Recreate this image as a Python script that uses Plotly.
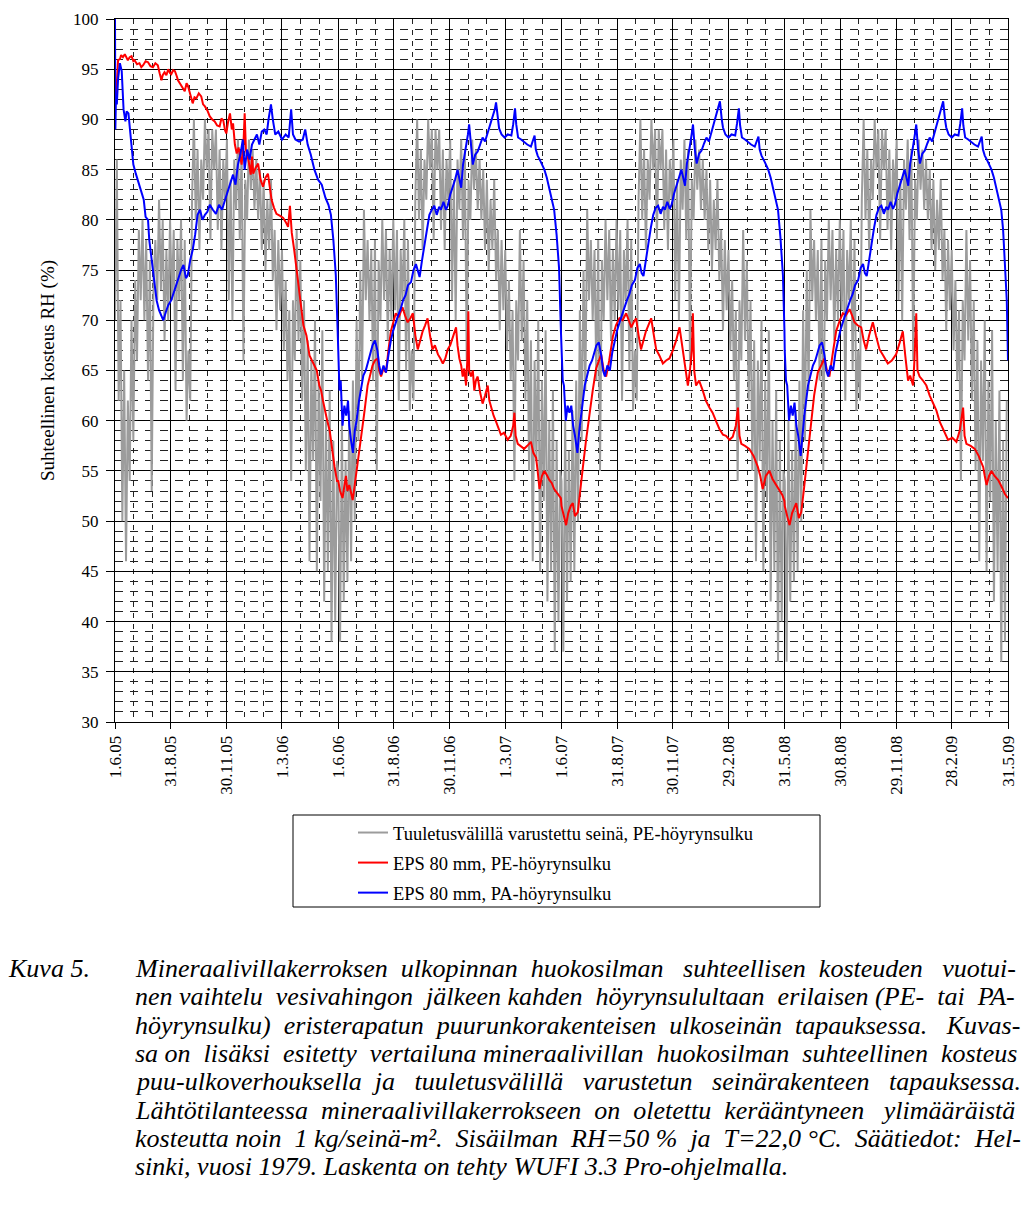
import datetime as dt
import re
import plotly.graph_objects as go

# ---------------- data ----------------
TICK_LABELS = ["1.6.05", "31.8.05", "30.11.05", "1.3.06", "1.6.06", "31.8.06", "30.11.06",
               "1.3.07", "1.6.07", "31.8.07", "30.11.07", "29.2.08", "31.5.08", "30.8.08",
               "29.11.08", "28.2.09", "31.5.09"]

SERIES_NAMES = ["Tuuletusvälillä varustettu seinä, PE-höyrynsulku",
                "EPS 80 mm, PE-höyrynsulku",
                "EPS 80 mm, PA-höyrynsulku"]

# Ventilated wall (grey): one value every 3 days, per simulation year (from 1.6.)
GRAY_STEP_DAYS = 3
GRAY_Y1 = [70, 86, 62, 72, 50, 65, 46, 62, 54, 70, 58, 74, 66, 79, 72, 80, 70, 78, 64, 76,
           53, 74, 78, 72, 82, 73, 80, 68, 77, 70, 80, 72, 79, 63, 78, 72, 80, 64, 78, 60,
           67, 62, 82, 90, 80, 87, 77, 86, 82, 90, 85, 89, 78, 89, 85, 89, 79, 87, 77, 86,
           82, 88, 72, 84, 70, 86, 81, 88, 78, 87, 66, 84, 80, 88, 83, 87, 81, 86, 80, 85,
           77, 84, 75, 82, 77, 84, 74, 79, 69, 78, 71, 77, 67, 74, 64, 71, 54, 72, 66, 79,
           68, 76, 62, 72, 55, 68, 46, 66, 56, 70, 45, 64, 52, 69, 42, 60, 45, 63, 38, 58,
           40, 56]
GRAY_Y2 = [55, 38, 60, 42, 56, 44, 61, 46, 64, 50, 70, 58, 75, 64, 81, 72, 78, 70, 77, 64,
           78, 55, 76, 70, 80, 72, 79, 68, 77, 70, 80, 71, 79, 62, 77, 72, 80, 65, 78, 61,
           67, 62, 82, 90, 80, 87, 77, 86, 82, 90, 85, 89, 78, 89, 85, 89, 79, 87, 77, 86,
           82, 88, 72, 84, 70, 86, 81, 88, 78, 87, 66, 84, 80, 88, 83, 87, 81, 86, 80, 85,
           77, 84, 75, 82, 77, 84, 74, 79, 69, 78, 71, 77, 67, 74, 64, 71, 54, 72, 66, 79,
           68, 76, 62, 72, 55, 68, 46, 66, 56, 70, 45, 64, 52, 69, 42, 60, 45, 63, 37, 58,
           40, 55]
GRAY_Y3 = [54, 37, 60, 42, 57, 44, 61, 45, 64, 50, 71, 58, 75, 63, 81, 72, 78, 70, 77, 64,
           78, 55, 76, 70, 80, 72, 79, 68, 77, 70, 80, 71, 79, 62, 77, 72, 80, 65, 78, 61,
           67, 62, 82, 90, 80, 87, 77, 86, 82, 90, 85, 89, 78, 89, 85, 89, 79, 87, 77, 86,
           82, 88, 72, 84, 70, 86, 81, 88, 78, 87, 66, 84, 80, 88, 83, 87, 81, 86, 80, 85,
           77, 84, 75, 82, 77, 84, 74, 79, 69, 78, 71, 77, 67, 74, 64, 71, 54, 72, 66, 79,
           68, 76, 62, 72, 55, 68, 46, 66, 56, 70, 45, 64, 52, 69, 42, 60, 45, 63, 36, 58,
           40, 55]
GRAY_Y4 = [54, 36, 60, 42, 57, 44, 61, 45, 64, 50, 71, 58, 75, 63, 81, 72, 78, 70, 77, 64,
           78, 55, 76, 70, 80, 72, 79, 68, 77, 70, 80, 71, 79, 62, 77, 72, 80, 65, 78, 61,
           67, 62, 82, 90, 80, 87, 77, 86, 82, 90, 85, 89, 78, 89, 85, 89, 79, 87, 77, 86,
           82, 88, 72, 84, 70, 86, 81, 88, 78, 87, 66, 84, 80, 88, 83, 87, 81, 86, 80, 85,
           77, 84, 75, 82, 77, 84, 74, 79, 69, 78, 71, 77, 67, 74, 64, 71, 54, 72, 66, 79,
           68, 76, 62, 72, 55, 68, 46, 66, 56, 70, 45, 64, 52, 69, 42, 60, 45, 63, 36, 58,
           38, 62]

# EPS 80 mm, PE vapour barrier (red): (day of simulation year, RH %)
RED_Y1 = [(0, 93.1), (2, 92.3), (5, 95.9), (8, 96), (10, 96.4), (13, 96.2), (16, 96.5), (19, 96.1),
          (21, 95.9), (24, 96.2), (27, 96.3), (30, 95.8), (32, 95.9), (36, 95.5), (40, 95.6),
          (43, 95.2), (46, 95.4), (50, 95.8), (54, 95.7), (58, 95.3), (62, 95.2), (66, 95.6),
          (70, 95.4), (73, 94.6), (76, 93.9), (78, 94.4), (81, 94.7), (84, 94.4), (87, 95.0),
          (90, 94.6), (92, 94.5), (95, 94.9), (98, 94.8), (101, 94.3), (103, 93.9), (106, 93.6),
          (109, 93.3), (112, 93), (114, 92.8), (117, 93.6), (119, 93.4), (123, 92.5), (127, 91.6),
          (130, 92.2), (133, 92.1), (137, 92.6), (141, 92.3), (144, 91.5), (147, 91.3), (151, 90.9),
          (155, 90.3), (159, 90), (163, 89.8), (167, 89.4), (171, 89.3), (174, 90.1), (177, 89.9),
          (180, 88.9), (182, 88.6), (185, 89.8), (188, 90.6), (191, 89), (193, 89.6), (196, 87.5),
          (199, 86.6), (202, 87.2), (204, 86.3), (207, 85.5), (210, 87.5), (212, 90.6), (214, 87),
          (218, 86), (222, 84.5), (224, 86.3), (226, 84.6), (230, 85.2), (234, 85.6), (238, 84),
          (242, 83.3), (246, 84.2), (250, 84.6), (253, 83), (256, 82), (260, 81.2), (264, 80.6),
          (270, 80.4), (275, 80.2), (279, 79.8), (283, 79.3), (286, 81.4), (289, 78.7), (293, 77),
          (297, 75), (300, 73), (304, 71), (308, 69.5), (313, 68.5), (318, 66.5), (322, 66),
          (326, 65.5), (330, 65), (334, 63.5), (337, 63), (340, 62), (343, 61), (347, 60),
          (351, 59), (355, 57), (359, 55.4), (363, 54)]
RED_Y2 = [(0, 54), (3, 53), (7, 52.3), (10, 53.5), (12.6, 54.5), (15, 53), (18, 53.6), (21, 52.8),
          (23.6, 52.1), (26, 53.2), (29, 54.5), (33, 56.5), (37, 58.1), (42, 60.5), (48, 63.5),
          (52, 64.5), (56, 65.5), (60, 66), (64.5, 66.2), (67, 65), (70, 64.4), (74, 65.2),
          (78, 64.8), (82, 67), (86, 68.9), (90, 69.8), (94, 70.7), (99, 70.3), (105, 71.3),
          (109, 70.5), (113.5, 69.8), (118, 70.2), (122, 70.7), (126, 68.5), (130, 67.1),
          (134, 68), (138, 68.9), (142, 69.5), (146, 70.2), (150, 68.5), (154, 67.1), (158, 67.5),
          (163, 66.6), (167, 66.2), (171, 65.7), (175, 66.2), (179, 67.1), (183, 67.5), (187, 68.2),
          (190, 68.8), (192.6, 69.3), (195, 67.5), (198, 66.2), (201, 65.5), (203.5, 64.4),
          (206, 65.2), (209, 63.5), (211, 66), (212.7, 70.9), (214, 65), (217, 64.4), (220, 65),
          (222.5, 63), (225, 64), (228, 64.4), (232, 62.8), (236, 61.7), (240, 62.5), (244.4, 63.5),
          (247, 62), (250, 61.3), (254, 60.5), (258, 59.9), (262, 59.2), (266, 58.6), (271, 58.8),
          (277, 58.1), (282, 58.5), (286, 59.5), (288, 60.8), (290, 58.5), (293.5, 57.7),
          (298, 57.5), (304, 57.2), (309, 57.5), (315, 57.9), (319, 56.8), (323.5, 56.3),
          (326, 55), (329, 53.2), (333, 54.5), (337, 55), (341, 54.6), (345, 54.1), (349, 53.8),
          (353, 53.2), (358, 52.8), (364, 52.3)]
RED_Y3 = [(0, 51.5), (4, 50.5), (7.5, 49.6), (11, 50.8), (15, 51.5), (18.5, 51.8), (22, 50.5),
          (26.7, 50.9), (30, 52.5), (35, 55.4), (40, 58), (45.6, 60.8), (51, 63), (56.6, 65.2),
          (61, 66), (64.8, 66.6), (69, 65), (73, 64.4), (78, 66), (84, 68.4), (89, 69.5),
          (94.7, 70.2), (100, 70), (105.7, 70.7), (110, 70), (114, 69.3), (118, 69.8), (122, 70.2),
          (126, 68.5), (130, 67.1), (134, 68), (138, 68.9), (142, 69.5), (146.6, 70.2), (151, 68.5),
          (154.8, 67.1), (160, 66.5), (165.7, 65.7), (171, 66), (176.5, 66.2), (182, 67),
          (187.5, 68), (193, 69.3), (197, 67.5), (201, 65.7), (204, 64.5), (206.6, 63.5),
          (210, 65), (213, 67), (214.8, 70.7), (217, 65), (220, 63.5), (225, 64), (231, 63),
          (236, 62), (242, 61.3), (247, 60.8), (253, 59.9), (258, 59.2), (264, 58.6), (269, 58.5),
          (274.7, 58.1), (280, 58.4), (285, 59.5), (288.5, 61.3), (291, 58.5), (294, 57.7),
          (300, 57.5), (307, 57.2), (314, 56.5), (321, 55.4), (325, 54.5), (329, 53.2),
          (334, 54.5), (340, 55), (345, 54.2), (351, 53.6), (356, 53), (361, 52.6), (364.5, 52)]
RED_Y4 = [(0, 51.5), (4, 50.5), (7.9, 49.6), (12, 50.8), (15, 51.2), (18.8, 51.8), (23, 50.3),
          (27, 50.9), (31, 53), (35, 55.4), (39, 57.5), (43, 59.9), (48, 62.5), (54, 64.8),
          (59, 65.5), (65, 66.2), (69, 65), (73, 64.4), (78, 66.5), (84, 68.9), (90, 70),
          (95, 70.7), (100, 70.5), (106, 71.1), (110, 70.5), (114, 69.8), (119, 69.5), (125, 69.3),
          (129, 68), (133, 67.1), (138, 68.5), (144, 69.8), (149, 68.5), (155, 67.1), (161, 66.5),
          (168.5, 65.7), (175, 66), (182, 66.6), (188, 67.8), (193, 68.9), (197, 66.5),
          (201.6, 64), (205, 64.5), (209.8, 63.5), (212, 66), (215, 70.7), (217, 65),
          (220.5, 64.4), (226, 64), (231.5, 63.5), (237, 62.5), (242.5, 61.7), (248, 61),
          (253.3, 59.9), (260, 59), (267, 58.1), (274, 58.3), (280.7, 57.9), (286, 59),
          (291.6, 61.3), (294, 58.5), (297, 57.7), (304, 57.5), (310.7, 57.2), (317, 56.5),
          (324.4, 55.4), (327, 54.5), (330, 53.6), (334, 54.5), (338, 55), (343, 54.5),
          (349, 54.1), (354, 53.5), (360, 52.7), (365, 52.3)]

# EPS 80 mm, PA vapour barrier (blue): (day of simulation year, RH %)
BLUE_Y1 = [(0, 100), (0.6, 89), (1.5, 92), (3, 91.5), (5, 94), (8, 95.6), (11, 94.8), (14, 91),
           (17, 89.8), (19, 90.8), (22, 90.6), (24, 89.3), (28, 87), (30, 85.5), (34, 84.6),
           (37, 84), (41, 83), (44, 82.6), (47, 82), (50, 80.3), (54, 80), (56, 78), (60, 76),
           (64, 74), (68, 72), (72, 71), (76, 70.5), (79, 70), (83, 70.8), (87, 71.5), (92, 72),
           (96, 72.8), (100, 73.5), (104, 74.2), (108, 75), (112, 75.5), (116, 74.2), (119, 74.5),
           (123, 76), (127, 77), (131, 78.5), (135, 80.5), (139, 81), (143, 80), (147, 80.5),
           (151, 80.8), (155, 81.5), (160, 81), (165, 80.6), (170, 81.5), (175, 81), (180, 82),
           (185, 83), (190, 84), (193, 84.5), (197, 83.5), (201, 85.5), (205, 86.5), (209, 88),
           (212, 85), (216, 87), (220, 86), (224, 87.5), (228, 88), (232, 88.5), (236, 87.5),
           (240, 88.8), (244, 89), (248, 88.5), (251, 90), (255, 91.5), (258, 90), (262, 88.5),
           (267, 88.8), (273, 88), (279, 88.5), (284, 88.2), (288, 91), (291, 88.5), (295, 88),
           (301, 87.8), (307, 88), (311, 89), (315, 87.5), (320, 86.5), (326, 85), (332, 84),
           (338, 83.5), (344, 82.2), (349, 81.5), (353, 80.5), (357, 78), (361, 74.5), (364, 69)]
BLUE_Y2 = [(0, 67), (2, 63), (4, 64), (7, 59.5), (10, 61.5), (13, 60.5), (16, 62), (18, 59.5),
           (21, 58), (24, 56.8), (27, 59), (30, 60), (34, 62), (37, 63), (41, 64.5), (45, 65),
           (48, 65.7), (52, 66.5), (56, 67.5), (60, 68), (64, 67), (67, 65.5), (70, 64.6),
           (74, 65.5), (78, 64.8), (82, 66.5), (86, 68), (90, 69), (94, 69.8), (98, 70.5),
           (102, 71.1), (106, 72), (110, 72.5), (114, 73.5), (119, 73.8), (123, 75), (127, 75.6),
           (130, 74.8), (133, 74.3), (137, 76), (141, 77.4), (145, 79), (149, 80.5), (153, 81),
           (157, 81.4), (161, 80.5), (165, 81.3), (168, 81), (172, 81.8), (176, 81), (179, 81.4),
           (183, 82.5), (187, 83.2), (191, 84), (195, 85), (198, 84), (201, 83.2), (204, 85.5),
           (207, 86.5), (209, 87.3), (212, 88.5), (214, 89.5), (217, 87), (220, 85.5), (224, 86.5),
           (228, 86.8), (232, 87.5), (236, 88.2), (240, 87.8), (244, 88.6), (248, 89.5),
           (253, 90.4), (256, 91), (258, 91.7), (261, 90), (263, 89.1), (267, 88.5), (272, 88.2),
           (277, 88.5), (283, 88.4), (286, 89.5), (289, 91.1), (291, 89.5), (294, 88.2), (299, 88),
           (304, 87.7), (309, 87.5), (315, 87.3), (318, 87.8), (321, 88.4), (323, 87), (326, 86.4),
           (331, 85.8), (337, 85), (341, 84.2), (345, 83.2), (349, 82.2), (353, 81), (357, 78.5),
           (361, 75.2), (364, 69)]
BLUE_Y3 = [(0, 67), (2, 64), (4, 63.5), (7, 60), (10, 61.5), (13, 60.8), (16, 61.5), (19, 59.5),
           (22, 58.5), (26, 56.8), (29, 59), (32, 60.5), (35, 62), (38, 63.5), (42, 64.5),
           (46, 65.5), (50, 66), (54, 67), (57, 67.5), (61, 67.8), (65, 66.5), (68, 65),
           (71, 64.4), (75, 65.5), (79, 65), (83, 66.8), (87, 68), (91, 69), (95, 69.8),
           (99, 70.6), (103, 71.2), (107, 72), (111, 72.6), (115, 73.5), (120, 74), (124, 75.2),
           (128, 75.6), (131, 74.7), (134, 74.4), (138, 76.2), (142, 77.6), (146, 79.2),
           (150, 80.5), (154, 81.2), (158, 81.4), (162, 80.6), (166, 81.3), (169, 81), (173, 81.8),
           (177, 81.1), (180, 81.5), (184, 82.6), (188, 83.3), (192, 84.2), (196, 85), (199, 84),
           (202, 83.4), (205, 85.6), (208, 86.5), (210, 87.4), (213, 88.6), (215, 89.5), (218, 87),
           (221, 85.6), (225, 86.6), (229, 86.9), (233, 87.6), (237, 88.2), (241, 87.8),
           (245, 88.7), (249, 89.6), (254, 90.5), (257, 91.2), (259, 91.8), (262, 90), (264, 89.2),
           (268, 88.5), (273, 88.2), (278, 88.5), (284, 88.4), (287, 89.6), (290, 91.1),
           (292, 89.4), (295, 88.2), (300, 88), (305, 87.7), (310, 87.5), (316, 87.3), (319, 87.9),
           (322, 88.3), (324, 87), (327, 86.4), (332, 85.8), (338, 85), (342, 84.2), (346, 83.2),
           (350, 82.2), (354, 81), (358, 78.2), (362, 74.5), (364.5, 69)]
BLUE_Y4 = [(0, 67), (2, 64), (4, 63.5), (7, 60), (10, 61.5), (13, 60.5), (16, 61.8), (19, 59.5),
           (22, 58.5), (26, 56.5), (29, 59), (32, 60.5), (35, 62), (38, 63.5), (42, 64.5),
           (46, 65.5), (50, 66), (54, 67), (57, 67.5), (61, 67.8), (65, 66.5), (68, 65),
           (71, 64.4), (75, 65.5), (79, 65), (83, 66.8), (87, 68), (91, 69), (95, 69.8),
           (99, 70.6), (103, 71.2), (107, 72), (111, 72.6), (115, 73.5), (120, 74), (124, 75.2),
           (128, 75.6), (131, 74.7), (134, 74.4), (138, 76.2), (142, 77.6), (146, 79.2),
           (150, 80.5), (154, 81.2), (158, 81.4), (162, 80.6), (166, 81.3), (169, 81), (173, 81.8),
           (177, 81.1), (180, 81.5), (184, 82.6), (188, 83.3), (192, 84.2), (196, 85), (199, 84),
           (202, 83.4), (205, 85.6), (208, 86.5), (210, 87.4), (213, 88.6), (215, 89.5), (218, 87),
           (221, 85.6), (225, 86.6), (229, 86.9), (233, 87.6), (237, 88.2), (241, 87.8),
           (245, 88.7), (249, 89.6), (254, 90.5), (257, 91.2), (259, 91.8), (262, 90), (264, 89.2),
           (268, 88.5), (273, 88.2), (278, 88.5), (284, 88.4), (287, 89.6), (290, 91.1),
           (292, 89.4), (295, 88.2), (300, 88), (305, 87.7), (310, 87.5), (316, 87.3), (319, 87.9),
           (322, 88.3), (324, 87), (327, 86.4), (332, 85.8), (338, 85), (342, 84.2), (346, 83.2),
           (350, 82.2), (354, 81), (357, 79), (360, 76), (363, 72), (365, 66)]

Y_LABEL = "Suhteellinen kosteus RH (%)"
CAPTION_TAG = "Kuva 5."
CAPTION_LINES = [
    "Mineraalivillakerroksen ulkopinnan huokosilman suhteellisen kosteuden vuotui-",
    "nen vaihtelu vesivahingon jälkeen kahden höyrynsulultaan erilaisen (PE- tai PA-",
    "höyrynsulku) eristerapatun puurunkorakenteisen ulkoseinän tapauksessa. Kuvas-",
    "sa on lisäksi esitetty vertailuna mineraalivillan huokosilman suhteellinen kosteus",
    "puu-ulkoverhouksella ja tuuletusvälillä varustetun seinärakenteen tapauksessa.",
    "Lähtötilanteessa mineraalivillakerrokseen on oletettu kerääntyneen ylimääräistä",
    "kosteutta noin 1 kg/seinä-m². Sisäilman RH=50 % ja T=22,0 °C. Säätiedot: Hel-",
    "sinki, vuosi 1979. Laskenta on tehty WUFI 3.3 Pro-ohjelmalla.",
]

# ---------------- build ----------------
ORIGIN = dt.date(2005, 6, 1)


def label_to_day(lbl):
    d, m, y = lbl.split(".")
    return (dt.date(2000 + int(y), int(m), int(d)) - ORIGIN).days


tick_days = [label_to_day(t) for t in TICK_LABELS]
year_starts = [tick_days[0], tick_days[4], tick_days[8], tick_days[12]]
end_day = tick_days[-1]

minor_x = []
for a, b in zip(tick_days[:-1], tick_days[1:]):
    minor_x += [a + (b - a) / 3.0, a + 2.0 * (b - a) / 3.0]


def join_gray(years):
    xs, ys = [], []
    for start, vals in zip(year_starts, years):
        for i, v in enumerate(vals):
            xs.append(start + GRAY_STEP_DAYS * i)
            ys.append(v)
    return xs, ys


def join_pairs(years):
    xs, ys = [], []
    for start, pairs in zip(year_starts, years):
        for d, v in pairs:
            xs.append(start + d)
            ys.append(v)
    return xs, ys


gx, gy = join_gray([GRAY_Y1, GRAY_Y2, GRAY_Y3, GRAY_Y4])
rx, ry = join_pairs([RED_Y1, RED_Y2, RED_Y3, RED_Y4])
bx, by = join_pairs([BLUE_Y1, BLUE_Y2, BLUE_Y3, BLUE_Y4])

W, H = 1024, 1210
L, R, T, B = 115, 16, 19, 488
PW, PH = W - L - R, H - T - B


def px2x(px):
    return (px - L) / PW


def py2y(py):
    return (H - B - py) / PH


SERIF = "Liberation Serif"

# --- approximate Times-Italic advance widths (1/1000 em) used to justify the caption ---
_TI = {" ": 250, ",": 250, ".": 250, "-": 333, "(": 333, ")": 333, "/": 278, "=": 675,
       "%": 833, "°": 400, ":": 333, "²": 300,
       "A": 611, "C": 667, "E": 611, "F": 611, "H": 722, "I": 333, "K": 667, "L": 556,
       "M": 833, "P": 611, "R": 611, "S": 500, "T": 556, "U": 722, "W": 833,
       "a": 500, "b": 500, "c": 444, "d": 500, "e": 444, "f": 278, "g": 500, "h": 500,
       "i": 278, "j": 278, "k": 444, "l": 278, "m": 722, "n": 500, "o": 500, "p": 500,
       "q": 500, "r": 389, "s": 389, "t": 278, "u": 500, "v": 444, "w": 667, "x": 444,
       "y": 444, "z": 389, "ä": 500, "ö": 500}


def text_em(s):
    return sum(_TI.get(c, 500) for c in s) / 1000.0


def justify(s, size, target):
    extra = target - text_em(s) * size
    gaps = s.count(" ")
    n = int(round(extra / (0.25 * size))) if extra > 0 else 0
    if gaps == 0 or n <= 0:
        return s
    out, k = [], 0
    for ch in s:
        if ch == " ":
            add = (k + 1) * n // gaps - k * n // gaps
            out.append(" " + "\u00a0" * add)
            k += 1
        else:
            out.append(ch)
    return "".join(out)


fig = go.Figure()
fig.add_trace(go.Scatter(x=gx, y=gy, mode="lines", name=SERIES_NAMES[0], legendgroup="g",
                         line=dict(color="#9c9c9c", width=2)))
fig.add_trace(go.Scatter(x=rx, y=ry, mode="lines", name=SERIES_NAMES[1], legendgroup="r",
                         line=dict(color="#ff0000", width=2)))
fig.add_trace(go.Scatter(x=bx, y=by, mode="lines", name=SERIES_NAMES[2], legendgroup="b",
                         line=dict(color="#0000ff", width=2)))

fig.update_layout(
    width=W, height=H,
    margin=dict(l=L, r=R, t=T, b=B, autoexpand=False),
    paper_bgcolor="white", plot_bgcolor="white",
    font=dict(family=SERIF, color="black", size=16),
    showlegend=True,
    hovermode=False,
    legend=dict(x=px2x(353), y=py2y(814), xanchor="left", yanchor="top",
                bgcolor="rgba(0,0,0,0)", borderwidth=0,
                font=dict(family=SERIF, size=18.5, color="black"),
                tracegroupgap=3, itemwidth=30, traceorder="grouped"),
)

fig.update_xaxes(
    range=[0, end_day], tickmode="array", tickvals=tick_days, ticktext=TICK_LABELS,
    tickangle=-90, tickfont=dict(family=SERIF, size=17, color="black"),
    ticks="outside", ticklen=6, tickcolor="black", tickwidth=1,
    showline=True, linecolor="black", linewidth=1, mirror=True,
    showgrid=True, gridcolor="black", gridwidth=1, zeroline=False, automargin=False,
    minor=dict(tickvals=minor_x, showgrid=True, gridcolor="#222222", gridwidth=1,
               griddash="5px,6px", ticks=""),
)
fig.update_yaxes(
    range=[30, 100], tick0=30, dtick=5,
    tickfont=dict(family=SERIF, size=17, color="black"), ticklabelstandoff=4,
    ticks="outside", ticklen=8, tickcolor="black", tickwidth=1,
    showline=True, linecolor="black", linewidth=1, mirror=True,
    showgrid=True, gridcolor="black", gridwidth=1, zeroline=False, automargin=False,
    minor=dict(dtick=1, showgrid=True, gridcolor="#222222", gridwidth=1,
               griddash="8px,7px", ticks=""),
    title=dict(text=Y_LABEL, font=dict(family=SERIF, size=19, color="black"), standoff=13),
)

# legend frame
fig.add_shape(type="rect", xref="paper", yref="paper",
              x0=px2x(293), x1=px2x(820), y0=py2y(815), y1=py2y(907),
              line=dict(color="black", width=1), fillcolor="rgba(0,0,0,0)", layer="above")

# caption (justified body, baseline-anchored lines)
CAP_SIZE = 26
CAP_FIRST, CAP_STEP = 968, 28.3
CAP_LEFT, CAP_RIGHT = 135, 1018
BOTTOM_OFF = 17
fig.add_annotation(text=CAPTION_TAG, xref="paper", yref="paper", x=px2x(6),
                   y=py2y(CAP_FIRST + BOTTOM_OFF), xanchor="left", yanchor="bottom",
                   showarrow=False,
                   font=dict(family=SERIF, size=CAP_SIZE, style="italic", color="black"))
for i, line in enumerate(CAPTION_LINES):
    txt = line if i == len(CAPTION_LINES) - 1 else justify(line, CAP_SIZE, CAP_RIGHT - CAP_LEFT)
    fig.add_annotation(text=txt, xref="paper", yref="paper", x=px2x(CAP_LEFT - 2),
                       y=py2y(CAP_FIRST + CAP_STEP * i + BOTTOM_OFF), xanchor="left",
                       yanchor="bottom", showarrow=False,
                       font=dict(family=SERIF, size=CAP_SIZE, style="italic", color="black"))

fig.write_html("out.html", config={"displayModeBar": False},
               post_script="document.body.style.margin='0px';document.body.style.overflow='hidden';")
